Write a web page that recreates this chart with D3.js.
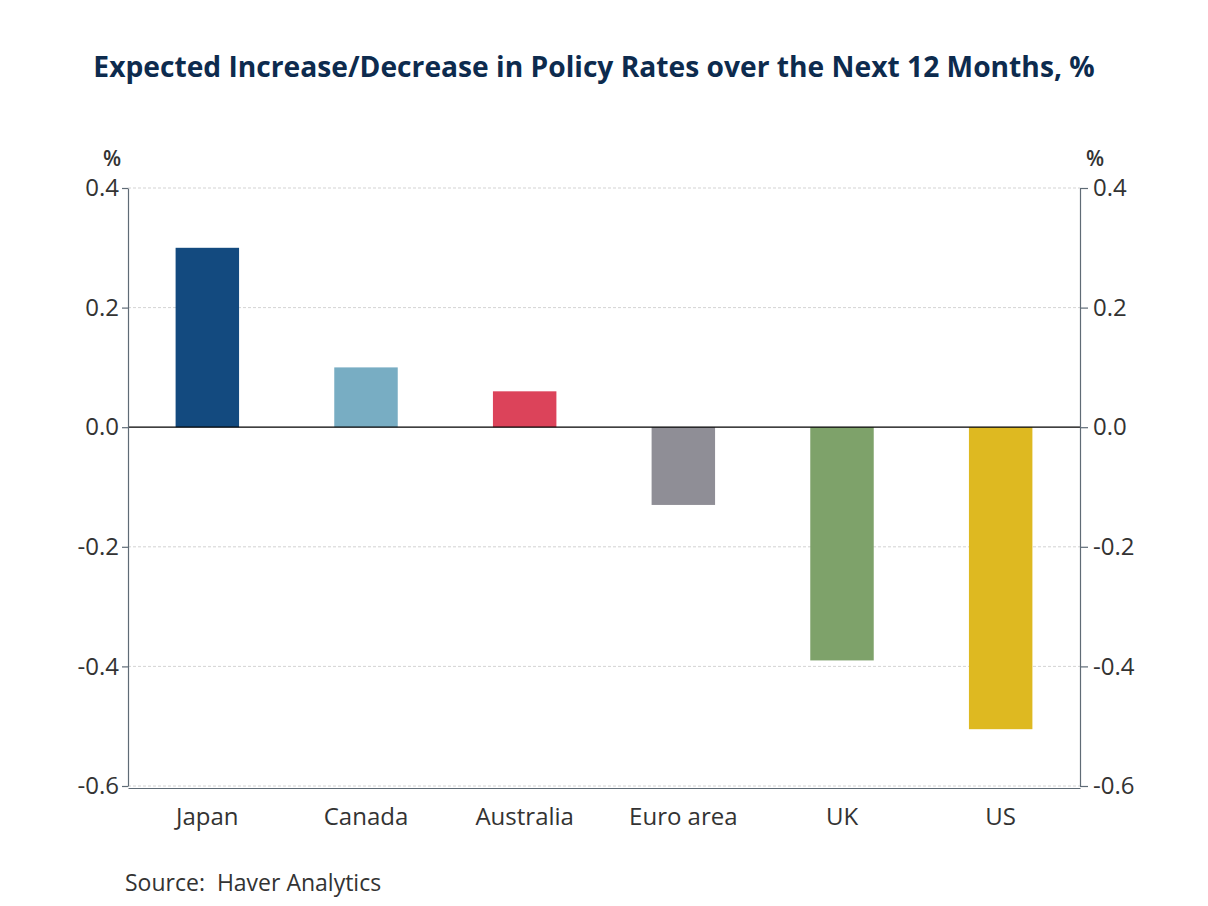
<!DOCTYPE html>
<html>
<head>
<meta charset="utf-8">
<script src="https://cdn.jsdelivr.net/npm/d3@7"></script>
<style>
  body { margin: 0; background: #fff; }
  svg text { font-family: "Open Sans", "Noto Sans", sans-serif; }
</style>
</head>
<body>
<svg id="chart" width="1208" height="906"></svg>
<script>
// chart data
var countries = ["Japan", "Canada", "Australia", "Euro area", "UK", "US"];
var rates = [0.30, 0.10, 0.06, -0.13, -0.39, -0.505];
var barColors = ["#134a7f", "#78adc3", "#dc435a", "#8f8e96", "#7ea26a", "#deb921"];
var yTicks = [0.4, 0.2, 0.0, -0.2, -0.4, -0.6];

var margin = { top: 188, right: 128, bottom: 120, left: 128 };
var svgWidth = 1208, svgHeight = 906;
var width = 1080 - margin.left;
var height = 786 - margin.top;

var svg = d3.select("#chart");

svg.append("text")
   .attr("x", 594).attr("y", 77)
   .attr("text-anchor", "middle")
   .attr("font-size", 28.2)
   .attr("font-weight", 700)
   .attr("fill", "#0d2b4e")
   .text("Expected Increase/Decrease in Policy Rates over the Next 12 Months, %");

var g = svg.append("g")
   .attr("transform", "translate(" + margin.left + "," + margin.top + ")");

var x = d3.scaleBand().domain(countries).range([0, width])
   .paddingInner(0.6).paddingOuter(0.3);
var y = d3.scaleLinear().domain([-0.6, 0.4]).range([height, 0]);

// grid
g.selectAll(".grid").data(yTicks.filter(function(d) { return d !== 0; }))
  .enter().append("line")
  .attr("x1", 0).attr("x2", width)
  .attr("y1", function(d) { return y(d); })
  .attr("y2", function(d) { return y(d); })
  .attr("stroke", "#c8c8c8")
  .attr("stroke-width", 0.8)
  .attr("stroke-dasharray", "3,2");

// bars
g.selectAll(".bar").data(rates).enter().append("rect")
  .attr("x", function(d, i) { return x(countries[i]); })
  .attr("width", x.bandwidth())
  .attr("y", function(d) { return y(Math.max(d, 0)); })
  .attr("height", function(d) { return Math.abs(y(d) - y(0)); })
  .attr("fill", function(d, i) { return barColors[i]; });

// zero line
g.append("line")
  .attr("x1", 0).attr("x2", width)
  .attr("y1", y(0)).attr("y2", y(0))
  .attr("stroke", "#000").attr("stroke-width", 1.3);

var fmt = d3.format(".1f");
function styleAxis(sel) {
  sel.selectAll("path, line").attr("stroke", "#5f6b76").attr("stroke-width", 1.2);
  sel.selectAll("text").attr("font-size", 24).attr("fill", "#333")
     .attr("font-family", "'Open Sans', 'Noto Sans', sans-serif");
}

var left = g.append("g")
  .call(d3.axisLeft(y).tickValues(yTicks).tickFormat(fmt).tickSize(6).tickSizeOuter(0).tickPadding(3));
styleAxis(left);
left.selectAll("text").text(function(d) { return fmt(d).replace("\u2212", "-"); });

var right = g.append("g").attr("transform", "translate(" + width + ",0)")
  .call(d3.axisRight(y).tickValues(yTicks).tickFormat(fmt).tickSize(8).tickSizeOuter(0).tickPadding(5));
styleAxis(right);
right.selectAll("text").text(function(d) { return fmt(d).replace("\u2212", "-"); });

var bottom = g.append("g").attr("transform", "translate(0," + (height + 2) + ")")
  .call(d3.axisBottom(x).tickSize(0).tickPadding(20));
styleAxis(bottom);

// unit labels
svg.append("text").attr("x", 112).attr("y", 166).attr("text-anchor", "middle")
   .attr("font-size", 21).attr("font-weight", 600).attr("fill", "#333").text("%");
svg.append("text").attr("x", 1095).attr("y", 166).attr("text-anchor", "middle")
   .attr("font-size", 21).attr("font-weight", 600).attr("fill", "#333").text("%");

svg.append("text").attr("x", 125).attr("y", 891)
   .attr("font-size", 23).attr("fill", "#333")
   .attr("xml:space", "preserve")
   .text("Source:  Haver Analytics");
</script>
</body>
</html>
